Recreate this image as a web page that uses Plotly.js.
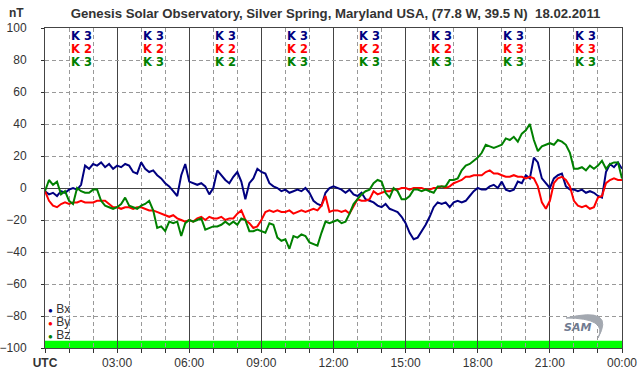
<!DOCTYPE html>
<html><head><meta charset="utf-8">
<script src="https://cdn.plot.ly/plotly-3.0.1.min.js"></script>
<style>html,body{margin:0;padding:0;background:#fff}#chart{width:642px;height:376px}</style>
</head><body><div id="chart"></div>
<script>
// Hours, 10-minute steps from 00:00 to 24:00
const hours = [];
for (let i = 0; i <= 144; i++) hours.push(i / 6);

const bx = [
 -2,-4,-3,-5,-2,-3,
 -1,0,-1,2,14,12,
 15,14,16,13,15,12,
 14,13,15,14,10,9,
 16,12,10,11,8,6,
 3,1,-2,-5,8,15,
 4,3,2,3,1,-4,
 0,11,8,5,3,7,
 10,4,-7,3,6,12,
 10,9,3,1,0,-2,
 -1,-3,-2,-1,-2,0,
 -3,-8,-10,-11,-3,0,
 1,0,-1,-3,-1,-4,
 -5,-3,-7,-8,-9,-11,
 -12,-10,-13,-14,-15,-18,
 -22,-28,-32,-31,-27,-23,
 -18,-12,-9,-10,-9,-12,
 -9,-8,-9,-8,-5,-2,
 0,-1,-1,1,2,0,
 4,-1,-2,-1,4,3,
 8,6,19,16,6,3,
 0,6,8,9,1,-1,
 -1,-2,-1,-3,-2,-3,
 -5,-6,10,15,13,16,
 12];
const by = [
 -2,-8,-11,-12,-10,-9,
 -10,-9,-9,-8,-9,-9,
 -9,-8,-8,-8,-10,-12,
 -12,-13,-12,-12,-13,-12,
 -12,-13,-14,-14,-15,-16,
 -17,-18,-17,-19,-20,-21,
 -20,-21,-19,-18,-20,-18,
 -19,-19,-18,-20,-19,-19,
 -16,-14,-20,-22,-25,-24,
 -20,-15,-14,-15,-14,-15,
 -15,-14,-16,-15,-14,-15,
 -14,-13,-14,-11,-5,-15,
 -14,-14,-15,-14,-16,-11,
 -7,-8,-8,-7,-2,-4,
 -3,-2,-2,-1,-1,0,
 0,-1,0,0,0,-1,
 -1,0,0,1,0,1,
 3,4,5,7,7,8,
 8,8,10,11,9,9,
 8,7,7,8,7,7,
 6,7,6,1,-9,-13,
 -8,3,6,7,5,1,
 -8,-11,-12,-11,-13,-12,
 -6,-5,3,5,6,5,
 5];
const bz = [
 -2,5,2,4,-4,-2,
 -8,-10,0,-2,-3,-3,
 -1,-1,-8,-11,-12,-13,
 -12,-10,-6,-11,-12,-13,
 -11,-10,-8,-14,-25,-24,
 -27,-21,-22,-21,-30,-22,
 -20,-21,-20,-19,-26,-25,
 -24,-24,-23,-21,-23,-21,
 -23,-19,-20,-27,-27,-26,
 -27,-28,-22,-23,-31,-33,
 -32,-38,-30,-31,-29,-30,
 -34,-35,-36,-28,-21,-22,
 -21,-20,-22,-21,-16,-10,
 -7,-4,-2,-1,3,5,
 4,-3,-6,0,-2,-7,
 -7,-5,-1,-1,-2,-1,
 -2,-3,1,1,1,5,
 5,6,11,14,15,17,
 19,22,27,26,25,26,
 27,31,30,32,29,34,
 36,40,30,23,26,27,
 28,27,30,29,27,22,
 12,12,13,11,14,12,
 14,17,12,15,16,16,
 6];

// K indices per 3-hour block
const kBlocks = [1.5,4.5,7.5,10.5,13.5,16.5,19.5,22.5];
const kX = [3,3,3,3,3,3,3,3];
const kY = [2,2,2,2,2,2,3,3];
const kZ = [3,3,2,3,3,3,3,3];

const tickVals = [0,3,6,9,12,15,18,21,24];
const tickText = ['<b>UTC</b>','03:00','06:00','09:00','12:00','15:00','18:00','21:00','00:00'];

const cBx = '#000080', cBy = '#ff0000', cBz = '#008000';

const traces = [
  {x: hours, y: bx, mode:'lines', line:{color:cBx,width:2}, name:'Bx', hoverinfo:'skip'},
  {x: hours, y: by, mode:'lines', line:{color:cBy,width:2}, name:'By', hoverinfo:'skip'},
  {x: hours, y: bz, mode:'lines', line:{color:cBz,width:2}, name:'Bz', hoverinfo:'skip'}
];

// pixel -> paper helpers (plot area: x 45..622, y 28..348)
const px = v => (v - 45) / 577;
const py = v => (348 - v) / 320;

const ann = [];
const kFont = {family:'DejaVu Sans', size:11.5};
kBlocks.forEach((b,i)=>{
  ann.push({x:b,y:95.3,xref:'x',yref:'y',text:'<b>K\u00a0'+kX[i]+'</b>',showarrow:false,font:Object.assign({color:cBx},kFont)});
  ann.push({x:b,y:86.9,xref:'x',yref:'y',text:'<b>K\u00a0'+kY[i]+'</b>',showarrow:false,font:Object.assign({color:cBy},kFont)});
  ann.push({x:b,y:78.5,xref:'x',yref:'y',text:'<b>K\u00a0'+kZ[i]+'</b>',showarrow:false,font:Object.assign({color:cBz},kFont)});
});
// nT label
ann.push({x:px(16),y:py(13),xref:'paper',yref:'paper',xanchor:'center',yanchor:'middle',text:'<b>nT</b>',showarrow:false,font:{family:'Liberation Sans',size:12,color:'#333'}});
// legend
const legNames = ['Bx','By','Bz'], legCols=[cBx,cBy,cBz], legY=[309,322,335];
legNames.forEach((n,i)=>{
  ann.push({x:px(46),y:py(legY[i]),xref:'paper',yref:'paper',xanchor:'left',yanchor:'middle',
    text:'<span style="color:'+legCols[i]+';font-size:8px">●</span>\u00a0'+n,showarrow:false,
    font:{family:'Liberation Sans',size:12,color:'#333'}});
});
// SAM logo text
ann.push({x:px(577),y:py(327),xref:'paper',yref:'paper',xanchor:'center',yanchor:'middle',text:'<i><b>SAM</b></i>',showarrow:false,
  font:{family:'DejaVu Sans',size:11,color:'#6f7a90'}});

const crescent = 'M '+px(566)+' '+py(318)+' Q '+px(616)+' '+py(306)+' '+px(598)+' '+py(338)+
  ' Q '+px(608)+' '+py(318)+' '+px(566)+' '+py(318)+' Z';

const layout = {
  width:642, height:376,
  margin:{l:45,r:20,t:28,b:28},
  paper_bgcolor:'#fff', plot_bgcolor:'#fff',
  showlegend:false,
  title:{text:'<b>Genesis Solar Observatory, Silver Spring, Maryland USA, (77.8 W, 39.5 N)\u00a0\u00a018.02.2011</b>',
    x:px(335.5)*577/642+45/642, xanchor:'center', xref:'container', y:1-13/376, yanchor:'middle', yref:'container',
    font:{family:'Liberation Sans',size:13.2,color:'#333'}},
  xaxis:{range:[0,24], tickmode:'array', tickvals:tickVals, ticktext:tickText,
    showgrid:true, gridcolor:'#444', gridwidth:1,
    ticks:'outside', ticklen:4, tickcolor:'#333',
    minor:{tickmode:'linear', tick0:0, dtick:1, showgrid:true, gridcolor:'#999', griddash:'4px,3px', gridwidth:1, ticks:'outside', ticklen:4, tickcolor:'#333'},
    showline:true, mirror:true, linecolor:'#444', linewidth:1,
    zeroline:false, tickfont:{family:'Liberation Sans',size:12,color:'#333'}, fixedrange:true},
  yaxis:{range:[-100,100], tickmode:'linear', tick0:-100, dtick:20,
    showgrid:true, gridcolor:'#999', griddash:'4px,3px', gridwidth:1,
    zeroline:true, zerolinecolor:'#444', zerolinewidth:1,
    ticks:'outside', ticklen:3, tickcolor:'#333', ticklabelstandoff:12,
    showline:true, mirror:true, linecolor:'#444', linewidth:1,
    tickfont:{family:'Liberation Sans',size:12,color:'#333'}, fixedrange:true},
  shapes:[
    {type:'rect', xref:'paper', yref:'y', x0:0, x1:1, y0:-100, y1:-95.5, fillcolor:'#00ff00', line:{width:0}, layer:'below'},
    {type:'path', xref:'paper', yref:'paper', path:crescent, fillcolor:'#a3a8b0', line:{color:'#a3a8b0',width:1}, layer:'above'}
  ],
  annotations:ann
};
Plotly.newPlot('chart', traces, layout, {staticPlot:true});
</script></body></html>
